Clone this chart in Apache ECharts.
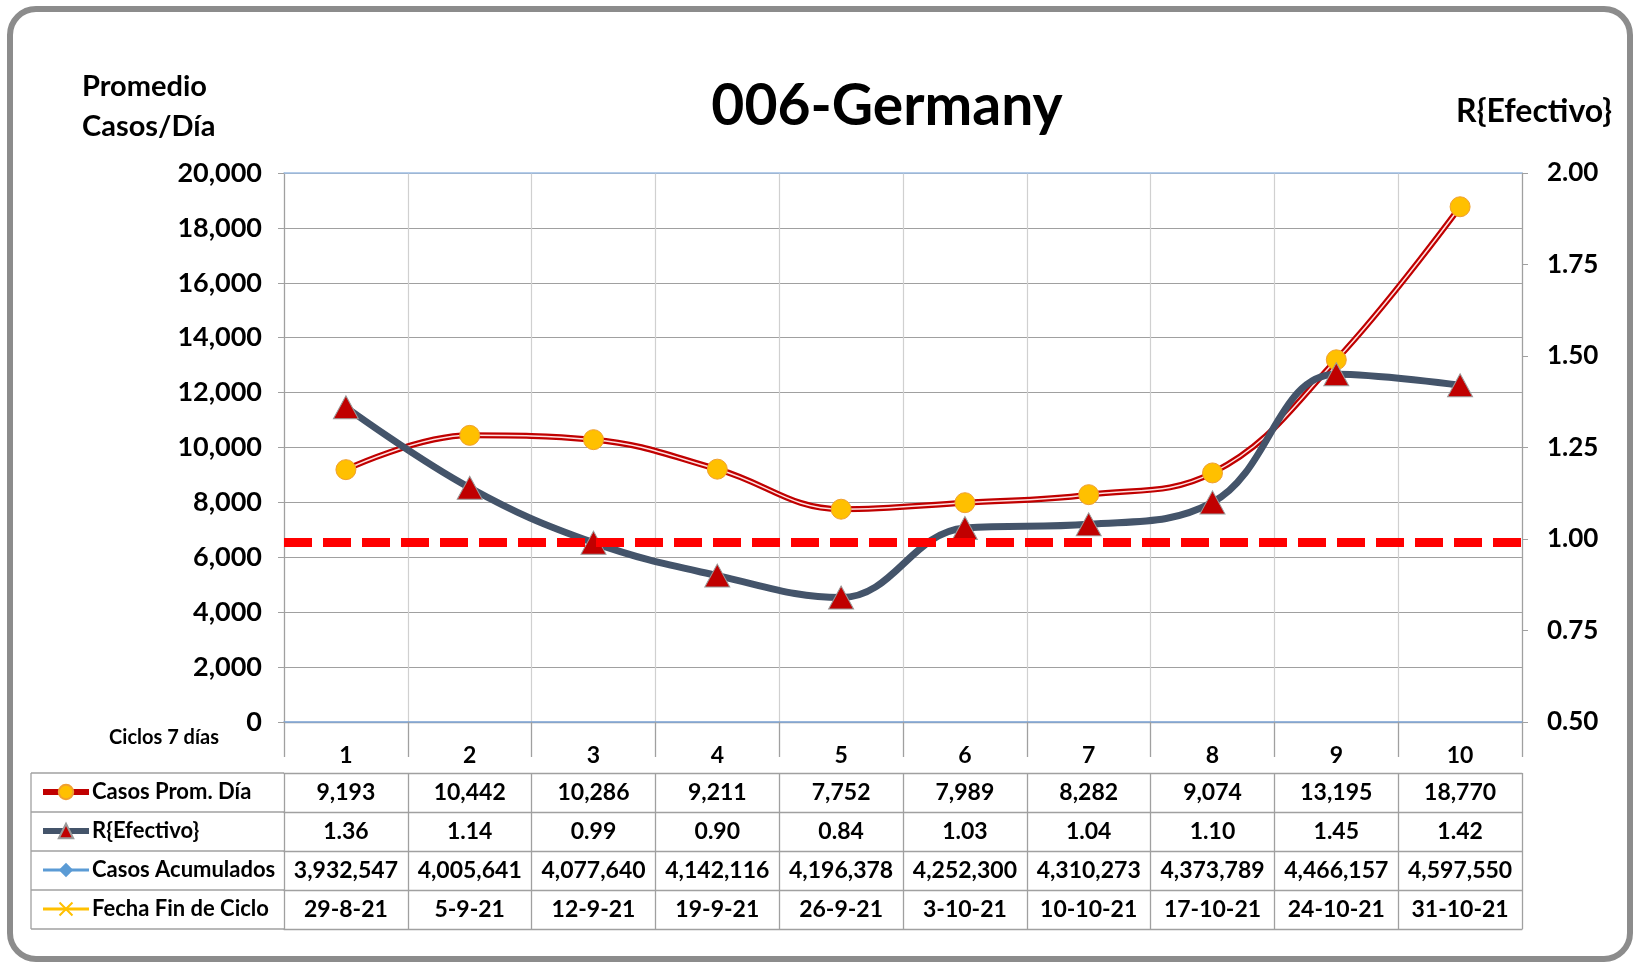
<!DOCTYPE html>
<html>
<head>
<meta charset="utf-8">
<title>006-Germany</title>
<script src="https://cdn.jsdelivr.net/npm/echarts@6/dist/echarts.min.js"></script>
<style>
  html, body { margin: 0; padding: 0; background: #fff; }
  #chart { width: 1636px; height: 963px; }
</style>
</head>
<body>
<div id="chart"></div>
<script>
// datos de la tabla
const ciclos = ['1', '2', '3', '4', '5', '6', '7', '8', '9', '10'];
const casosProm = [9193, 10442, 10286, 9211, 7752, 7989, 8282, 9074, 13195, 18770];
const rEfectivo = [1.36, 1.14, 0.99, 0.90, 0.84, 1.03, 1.04, 1.10, 1.45, 1.42];
const casosAcum = [3932547, 4005641, 4077640, 4142116, 4196378, 4252300, 4310273, 4373789, 4466157, 4597550];
const fechaFin = ['29-8-21', '5-9-21', '12-9-21', '19-9-21', '26-9-21', '3-10-21', '10-10-21', '17-10-21', '24-10-21', '31-10-21'];
const rUmbral = 0.99;

const FONT = 'Lato';
const SUAVE = 0.4;
const fmtMiles = v => Number(v).toLocaleString('en-US');

// geometria del grid y de la tabla
const plotLeft = 284, plotRight = 1522, plotTop = 173, plotBottom = 722;
const headTop = 738, headH = 35, rowH = 39;
const rowTop = i => headTop + headH + i * rowH;
const tableLeft = 31;
const gris = '#A0A0A0';

// filas de la tabla: un eje x por fila
function filaEje (offset, formatter, h) {
  return {
    type: 'category',
    gridIndex: 0,
    position: 'bottom',
    offset: offset,
    data: ciclos,
    axisLine: { show: true, lineStyle: { color: gris, width: 1.3 } },
    axisTick: { show: true, interval: 0, length: h, lineStyle: { color: gris, width: 1.3 } },
    axisLabel: {
      show: !!formatter,
      interval: 0,
      margin: h / 2,
      verticalAlign: 'middle',
      formatter: formatter,
      color: '#000',
      fontFamily: FONT,
      fontWeight: 'bold',
      fontSize: 23
    },
    splitLine: { show: false }
  };
}

const xAxes = [
  // eje principal (fila de ciclos)
  Object.assign(filaEje(headTop - plotBottom, v => v, headH), {
    splitLine: { show: true, interval: 0, lineStyle: { color: '#D0D0D0', width: 1.2 } }
  }),
  filaEje(rowTop(0) - plotBottom, (v, i) => fmtMiles(casosProm[i]), rowH),
  filaEje(rowTop(1) - plotBottom, (v, i) => rEfectivo[i].toFixed(2), rowH),
  filaEje(rowTop(2) - plotBottom, (v, i) => fmtMiles(casosAcum[i]), rowH),
  filaEje(rowTop(3) - plotBottom, (v, i) => fechaFin[i], rowH),
  Object.assign(filaEje(rowTop(4) - plotBottom, null, 0), { axisTick: { show: false } }),
  // lineas azules arriba y abajo del area
  { type: 'category', data: ciclos, position: 'bottom', offset: 0, axisLine: { lineStyle: { color: '#7FA7D9', width: 1.5 } }, axisTick: { show: false }, axisLabel: { show: false } },
  { type: 'category', data: ciclos, position: 'top', offset: 0, axisLine: { lineStyle: { color: '#9DBDE3', width: 1.5 } }, axisTick: { show: false }, axisLabel: { show: false } }
];

const axisLabelStyle = { color: '#000', fontFamily: FONT, fontWeight: 'bold' };

const option = {
  backgroundColor: '#fff',
  animation: false,
  grid: { left: plotLeft, right: 1636 - plotRight, top: plotTop, bottom: 963 - plotBottom },
  xAxis: xAxes,
  yAxis: [
    {
      type: 'value', min: 0, max: 20000, interval: 2000,
      axisLine: { show: true, lineStyle: { color: gris, width: 1.2 } },
      axisTick: { show: true, length: 6, lineStyle: { color: gris } },
      axisLabel: Object.assign({ margin: 22, fontSize: 27, formatter: fmtMiles }, axisLabelStyle),
      splitLine: { lineStyle: { color: gris, width: 1.2 } }
    },
    {
      type: 'value', min: 0.5, max: 2, interval: 0.25, position: 'right',
      axisLine: { show: true, lineStyle: { color: gris, width: 1.2 } },
      axisTick: { show: true, length: 6, lineStyle: { color: gris } },
      axisLabel: Object.assign({ margin: 25, fontSize: 26, formatter: v => v.toFixed(2) }, axisLabelStyle),
      splitLine: { show: false }
    }
  ],
  legend: {
    data: [
      { name: 'Casos Prom. Día', lineStyle: { color: '#C00000', width: 6 } },
      { name: 'R{Efectivo}', lineStyle: { color: '#44546A', width: 6 } },
      { name: 'Casos Acumulados', lineStyle: { color: '#5B9BD5', width: 3 } },
      { name: 'Fecha Fin de Ciclo', lineStyle: { color: '#FFC000', width: 3 } }
    ],
    orient: 'vertical',
    left: tableLeft + 4,
    top: rowTop(0) + 2,
    itemWidth: 46,
    itemHeight: 18,
    itemGap: rowH - 24,
    selectedMode: false,
    textStyle: { color: '#000', fontFamily: FONT, fontWeight: 'bold', fontSize: 22, lineHeight: 24, padding: [0, 0, 0, -2] }
  },
  graphic: [
    {
      type: 'rect', z: -10, silent: true,
      shape: { x: 10, y: 9, width: 1620, height: 950, r: 26 },
      style: { fill: '#fff', stroke: '#8C8C8C', lineWidth: 6 }
    },
    { type: 'text', style: { text: '006-Germany', x: 887, y: 107, align: 'center', verticalAlign: 'middle', fontFamily: FONT, fontWeight: 'bold', fontSize: 57, fill: '#000' } },
    { type: 'text', style: { text: 'Promedio\nCasos/Día', x: 82, y: 107, align: 'left', verticalAlign: 'middle', lineHeight: 40, fontFamily: FONT, fontWeight: 'bold', fontSize: 29, fill: '#000' } },
    { type: 'text', style: { text: 'R{Efectivo}', x: 1612, y: 112, align: 'right', verticalAlign: 'middle', fontFamily: FONT, fontWeight: 'bold', fontSize: 32, fill: '#000' } },
    { type: 'text', style: { text: 'Ciclos 7 días', x: 219, y: 738, align: 'right', verticalAlign: 'middle', fontFamily: FONT, fontWeight: 'bold', fontSize: 20, fill: '#000' } },
    // bordes de la columna de leyenda
    { type: 'line', shape: { x1: tableLeft, y1: rowTop(0), x2: tableLeft, y2: rowTop(4) }, style: { stroke: gris, lineWidth: 1.3 } },
    { type: 'line', shape: { x1: tableLeft, y1: rowTop(0), x2: plotLeft, y2: rowTop(0) }, style: { stroke: gris, lineWidth: 1.3 } },
    { type: 'line', shape: { x1: tableLeft, y1: rowTop(1), x2: plotLeft, y2: rowTop(1) }, style: { stroke: gris, lineWidth: 1.3 } },
    { type: 'line', shape: { x1: tableLeft, y1: rowTop(2), x2: plotLeft, y2: rowTop(2) }, style: { stroke: gris, lineWidth: 1.3 } },
    { type: 'line', shape: { x1: tableLeft, y1: rowTop(3), x2: plotLeft, y2: rowTop(3) }, style: { stroke: gris, lineWidth: 1.3 } },
    { type: 'line', shape: { x1: tableLeft, y1: rowTop(4), x2: plotLeft, y2: rowTop(4) }, style: { stroke: gris, lineWidth: 1.3 } }
  ],
  series: [
    {
      name: 'Casos Prom. Día',
      type: 'line',
      xAxisIndex: 0, yAxisIndex: 0,
      data: casosProm,
      smooth: SUAVE,
      symbol: 'circle',
      symbolSize: 20,
      lineStyle: { color: '#C00000', width: 6 },
      itemStyle: { color: '#FFC000', borderColor: '#F0A030', borderWidth: 1 },
      z: 3
    },
    {
      // linea interior clara (linea doble de Excel)
      type: 'line',
      xAxisIndex: 0, yAxisIndex: 0,
      data: casosProm,
      smooth: SUAVE,
      symbol: 'none',
      silent: true,
      lineStyle: { color: '#FFE0E0', width: 1.5 },
      z: 3
    },
    {
      name: 'R{Efectivo}',
      type: 'line',
      xAxisIndex: 0, yAxisIndex: 1,
      data: rEfectivo,
      smooth: SUAVE,
      symbol: 'triangle',
      symbolSize: [25, 23],
      lineStyle: { color: '#44546A', width: 7 },
      itemStyle: { color: '#C00000', borderColor: '#9A9A9A', borderWidth: 1 },
      z: 4,
      markLine: {
        silent: true,
        symbol: 'none',
        label: { show: false },
        lineStyle: { color: '#FF0000', width: 9, type: [28, 11] },
        data: [{ yAxis: rUmbral }]
      }
    },
    {
      name: 'Casos Acumulados',
      type: 'line',
      data: [],
      symbol: 'diamond',
      lineStyle: { color: '#5B9BD5', width: 3 },
      itemStyle: { color: '#5B9BD5' }
    },
    {
      name: 'Fecha Fin de Ciclo',
      type: 'line',
      data: [],
      symbol: 'path://M0,1L1,0L5,4L9,0L10,1L6,5L10,9L9,10L5,6L1,10L0,9L4,5Z',
      lineStyle: { color: '#FFC000', width: 3 },
      itemStyle: { color: '#FFC000' }
    }
  ]
};

const chart = echarts.init(document.getElementById('chart'));
chart.setOption(option);
window.addEventListener('resize', () => chart.resize());
</script>
</body>
</html>
